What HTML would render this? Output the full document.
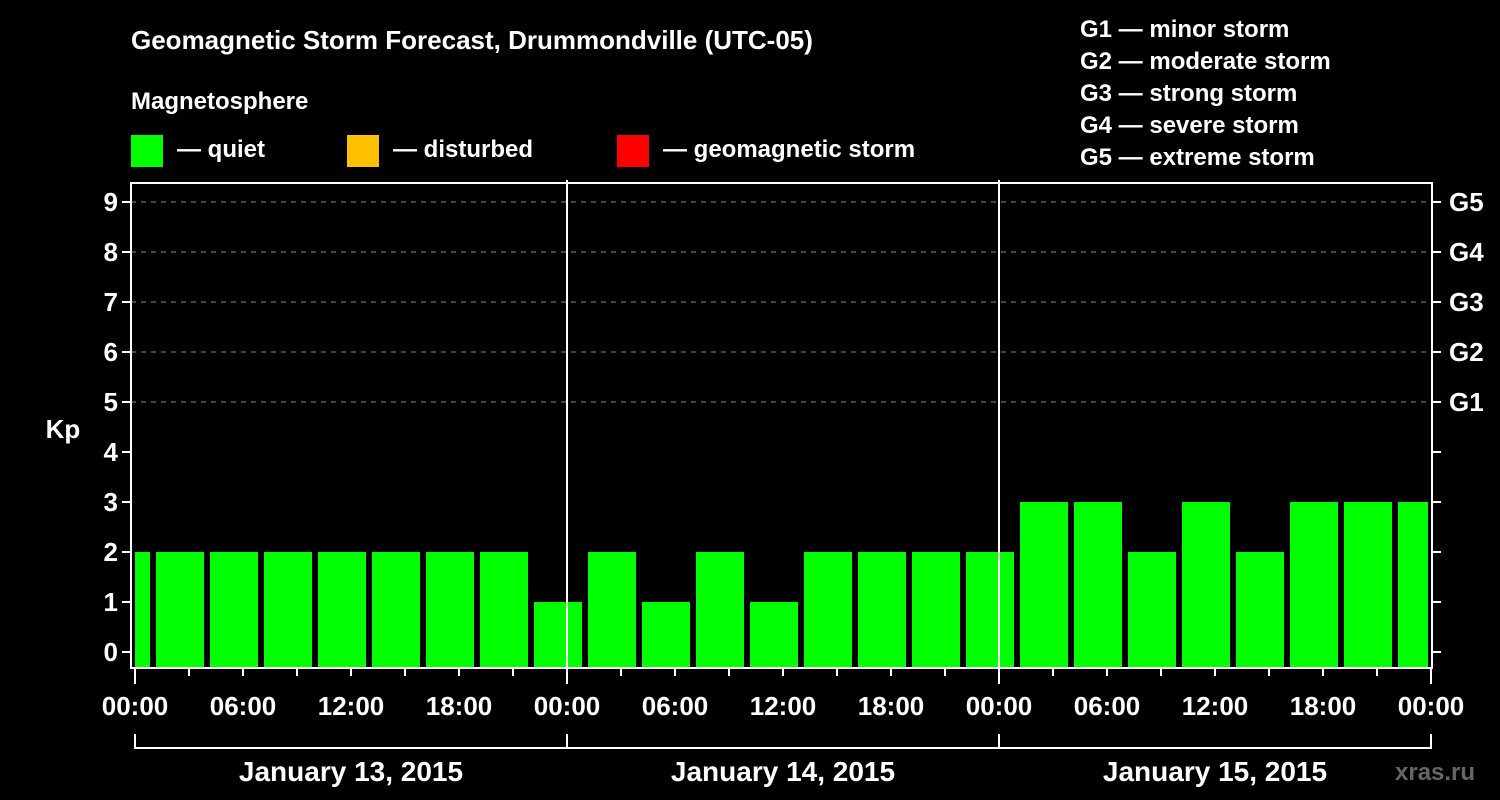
<!DOCTYPE html>
<html><head><meta charset="utf-8"><style>
html,body{margin:0;padding:0;background:#000;}
svg{display:block;font-family:"Liberation Sans",Arial,sans-serif;font-weight:bold;}
</style></head><body>
<svg id="chart" width="1500" height="800" viewBox="0 0 1500 800">
<rect x="0" y="0" width="1500" height="800" fill="#000"/>
<text x="131" y="49" fill="#fff" font-size="26">Geomagnetic Storm Forecast, Drummondville (UTC-05)</text>
<text x="131" y="109" fill="#fff" font-size="24">Magnetosphere</text>
<g>
<rect x="131" y="135" width="32" height="32" fill="#00ff00"/>
<text x="177" y="157" fill="#fff" font-size="24">— quiet</text>
<rect x="347" y="135" width="32" height="32" fill="#ffc000"/>
<text x="393" y="157" fill="#fff" font-size="24">— disturbed</text>
<rect x="617" y="135" width="32" height="32" fill="#ff0000"/>
<text x="663" y="157" fill="#fff" font-size="24">— geomagnetic storm</text>
</g>
<g fill="#fff" font-size="24">
<text x="1080" y="37">G1 — minor storm</text>
<text x="1080" y="69">G2 — moderate storm</text>
<text x="1080" y="101">G3 — strong storm</text>
<text x="1080" y="133">G4 — severe storm</text>
<text x="1080" y="165">G5 — extreme storm</text>
</g>
<text x="63" y="438" fill="#fff" font-size="26" text-anchor="middle">Kp</text>
<g id="grid"></g>
<g id="bars"></g>
<g id="axes"></g>
<text x="1395" y="780" fill="#666" font-size="24">xras.ru</text>
</svg>
<script>
const kpValues = [2, 2,2,2,2,2,2,2,1, 2,1,2,1,2,2,2,2, 3,3,2,3,2,3,3,3];
const blockStartHour = -2; // first 3h block start relative to Jan 13 00:00 local
const yTicks = [0,1,2,3,4,5,6,7,8,9];
const gLabels = ["G1","G2","G3","G4","G5"];
const gLevels = [5,6,7,8,9];
const xTickLabels = ["00:00","06:00","12:00","18:00","00:00","06:00","12:00","18:00","00:00","06:00","12:00","18:00","00:00"];
const dayLabels = ["January 13, 2015","January 14, 2015","January 15, 2015"];

const NS = "http://www.w3.org/2000/svg";
const X0 = 135, PXH = 18, TOTALH = 72;
const L = 131, R = 1432, T = 183, B = 668;
const xs = h => X0 + h * PXH;
const ys = v => 652 - v * 50;
function mk(tag, attrs, parent, text) {
  const e = document.createElementNS(NS, tag);
  for (const k in attrs) e.setAttribute(k, attrs[k]);
  if (text !== undefined) e.textContent = text;
  parent.appendChild(e);
  return e;
}
const grid = document.getElementById('grid');
const bars = document.getElementById('bars');
const axes = document.getElementById('axes');

yTicks.forEach(v => {
  if (v >= 5) {
    const g = mk('line', {x1: L, x2: R, y1: ys(v), y2: ys(v), stroke: '#888', 'stroke-width': 1, 'stroke-dasharray': '5,5'}, grid);
    
    
  }
  const t = mk('line', {x1: L - 9, x2: L, y1: ys(v), y2: ys(v), stroke: '#fff', 'stroke-width': 2}, axes);
  
  
  const t2 = mk('line', {x1: R, x2: R + 9, y1: ys(v), y2: ys(v), stroke: '#fff', 'stroke-width': 2}, axes);
  
  
  const lb = mk('text', {x: 118, y: ys(v) + 9, fill: '#fff', 'font-size': 26, 'text-anchor': 'end'}, axes, String(v));
  
  
});
gLabels.forEach((g, i) => {
  const lb = mk('text', {x: 1449, y: ys(gLevels[i]) + 9, fill: '#fff', 'font-size': 26}, axes, g);
  
  
});

kpValues.forEach((v, i) => {
  const h0 = blockStartHour + 3 * i, h1 = h0 + 3;
  let x1 = xs(h0) + 3, x2 = xs(h1) - 3;
  if (h0 < 0) x1 = xs(0);
  if (h1 > TOTALH) x2 = xs(TOTALH) - 3;
  const col = v >= 5 ? '#ff0000' : (v >= 4 ? '#ffc000' : '#00ff00');
  const r = mk('rect', {x: x1, y: ys(v), width: x2 - x1, height: B - 1 - ys(v), fill: col}, bars);
  
  
});

// frame
const fr = mk('rect', {x: L, y: T, width: R - L, height: B - T, fill: 'none', stroke: '#fff', 'stroke-width': 2}, axes);


// day separators
[24, 48].forEach(h => {
  const l = mk('line', {x1: xs(h), x2: xs(h), y1: 180, y2: B, stroke: '#fff', 'stroke-width': 2}, axes);
  
  
});
// x ticks every 3h
for (let h = 0; h <= TOTALH; h += 3) {
  const major = h % 24 === 0;
  const l = mk('line', {x1: xs(h), x2: xs(h), y1: B, y2: B + (major ? 16 : 8), stroke: '#fff', 'stroke-width': 2}, axes);
  
  
}
xTickLabels.forEach((s, i) => {
  const lb = mk('text', {x: xs(i * 6), y: 715, fill: '#fff', 'font-size': 26, 'text-anchor': 'middle'}, axes, s);
  
  
});
// day bracket
const br = mk('line', {x1: xs(0), x2: xs(TOTALH), y1: 748, y2: 748, stroke: '#fff', 'stroke-width': 2}, axes);


[0, 24, 48, 72].forEach(h => {
  const l = mk('line', {x1: xs(h), x2: xs(h), y1: 734, y2: 749, stroke: '#fff', 'stroke-width': 2}, axes);
  
  
});
dayLabels.forEach((s, i) => {
  const lb = mk('text', {x: xs(i * 24 + 12), y: 781, fill: '#fff', 'font-size': 28, 'text-anchor': 'middle'}, axes, s);
  
  
});
</script>
</body></html>
